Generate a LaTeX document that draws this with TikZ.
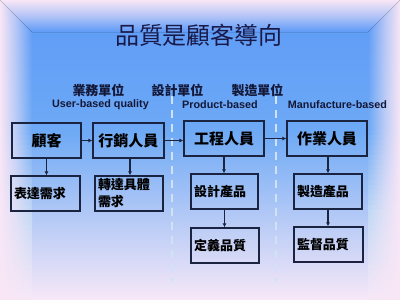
\documentclass[tikz,border=0pt]{standalone}
\usepackage{fontspec}
\setmainfont{Liberation Sans}
\newfontfamily\cjk{Noto Sans CJK TC}
\usetikzlibrary{arrows.meta}
\definecolor{pinkc}{HTML}{F8E6F6}
\definecolor{bluetop}{HTML}{5D9AF7}
\definecolor{bluemid}{HTML}{6DA9F5}
\definecolor{lightmid}{HTML}{C3D9F5}
\definecolor{bottomc}{HTML}{F7E8F7}
\definecolor{boxline}{HTML}{1A2440}
\definecolor{titlec}{HTML}{1A1A4A}
\definecolor{labelc}{HTML}{141838}
\definecolor{dashc}{HTML}{CFE3F5}
\begin{document}
\begin{tikzpicture}[x=1pt,y=-1pt,
  box/.style={draw=boxline, line width=1.2pt, minimum height=35pt, inner sep=0pt,
    font=\cjk\bfseries\fontsize{15}{18}\selectfont, text=black},
  subbox/.style={draw=boxline, line width=1.2pt, minimum height=35pt, inner xsep=3pt, inner ysep=0pt,
    align=left, font=\cjk\bfseries\fontsize{13}{17}\selectfont, text=black},
  head/.style={font=\cjk\bfseries\fontsize{13}{15}\selectfont, text=labelc, inner sep=0pt},
  sub/.style={font=\bfseries\fontsize{10.8}{12}\selectfont, text=labelc, inner sep=0pt},
  conn/.style={draw=boxline, line width=1.1pt, -{Latex[length=4pt,width=4pt]}},
  sep/.style={draw=dashc, line width=2pt, dash pattern=on 8pt off 6pt},
  bandl/.style={left color=pinkc, right color=#1, middle color=pinkc!55!#1},
  bandr/.style={right color=pinkc, left color=#1, middle color=pinkc!55!#1}
]
\useasboundingbox (0,0) rectangle (400,300);
% background
\fill[top color=bluetop, bottom color=bluemid] (0,0) rectangle (400,131);
\fill[top color=bluemid, middle color=lightmid, bottom color=bottomc] (0,130) rectangle (400,300);
% side bands, in short pieces matching the background
\foreach \yy in {0,5,...,125}{
  \pgfmathtruncatemacro{\p}{(\yy+2.5)/1.3}
  \colorlet{bgc}{bluemid!\p!bluetop}
  \fill[bandl=bgc] (0,\yy) rectangle (32,\yy+5.4);
  \fill[bandr=bgc] (368,\yy) rectangle (400,\yy+5.4);
}
\foreach \yy in {130,135,...,210}{
  \pgfmathtruncatemacro{\p}{(\yy-127.5)/0.85}
  \colorlet{bgc}{lightmid!\p!bluemid}
  \fill[bandl=bgc] (0,\yy) rectangle (32,\yy+5.4);
  \fill[bandr=bgc] (368,\yy) rectangle (400,\yy+5.4);
}
\foreach \yy in {215,220,...,295}{
  \pgfmathtruncatemacro{\p}{min(100,(\yy-212.5)/0.85)}
  \colorlet{bgc}{bottomc!\p!lightmid}
  \fill[bandl=bgc] (0,\yy) rectangle (32,\yy+5.4);
  \fill[bandr=bgc] (368,\yy) rectangle (400,\yy+5.4);
}
% top band
\fill[top color=pinkc, bottom color=bluetop, middle color=pinkc!55!bluetop]
  (0,0) -- (400,0) -- (368,32) -- (32,32) -- cycle;

% title
\node[font=\cjk\fontsize{24}{28}\selectfont, text=titlec] (title) at (199,35) {品質是顧客導向};

% separators
\coordinate (s1t) at (172,96); \coordinate (s1b) at (172,282);
\coordinate (s2t) at (276,96); \coordinate (s2b) at (276,282);
\draw[sep] (s1t) -- (s1b);
\draw[sep] (s2t) -- (s2b);

% headers
\node[head] (h1) at (98.5,90) {業務單位};
\node[head] (h2) at (177.5,90) {設計單位};
\node[head] (h3) at (257.5,90) {製造單位};
\node[sub] (u1) at (100.5,104.5) {User-based quality};
\node[sub] (u2) at (220,104.5) {Product-based};
\node[sub] (u3) at (337.5,104.5) {Manufacture-based};

% boxes
\node[box, minimum width=69pt] (a) at (46.5,140.5) {顧客};
\node[box, minimum width=71pt] (b) at (128.5,140.5) {行銷人員};
\node[box, minimum width=80pt] (c) at (224,138.5) {工程人員};
\node[box, minimum width=80pt] (d) at (327,138.5) {作業人員};

\node[subbox, text width=63pt] (a2) at (45.5,193.5) {表達需求};
\node[subbox, text width=62pt] (b2) at (129,193.5) {轉達具體\\需求};
\node[subbox, text width=61pt] (c2) at (224.5,191.5) {設計產品};
\node[subbox, text width=62pt] (d2) at (328,191.5) {製造產品};
\node[subbox, text width=62pt] (c3) at (225,245.5) {定義品質};
\node[subbox, text width=63pt] (d3) at (328.5,244.5) {監督品質};

% connectors
\draw[conn] (a.east) -- (a.east -| b.west);
\draw[conn] (b.east) -- (b.east -| c.west);
\draw[conn] (c.east) -- (c.east -| d.west);
\draw[conn] (a.south) -- (a.south |- a2.north);
\draw[conn] ([xshift=1.5pt]b.south) -- ([xshift=1.5pt]b.south |- b2.north);
\draw[conn] (c.south) -- (c.south |- c2.north);
\draw[conn] ([xshift=1pt]d.south) -- ([xshift=1pt]d.south |- d2.north);
\draw[conn] (c2.south) -- (c2.south |- c3.north);
\draw[conn] (d2.south) -- (d2.south |- d3.north);
\end{tikzpicture}
\end{document}
